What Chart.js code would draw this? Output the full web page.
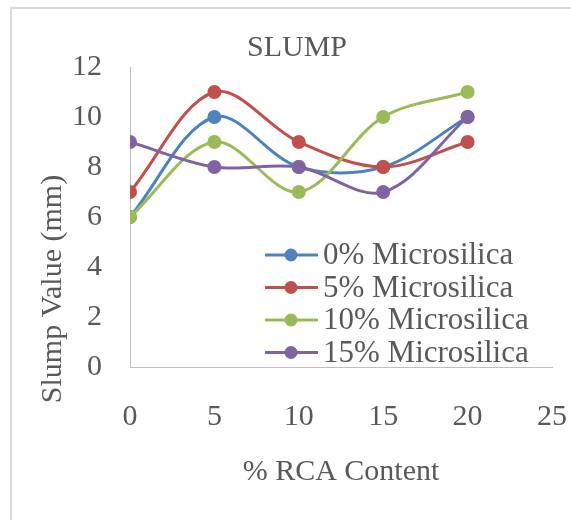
<!DOCTYPE html>
<html>
<head>
<meta charset="utf-8">
<script src="https://cdn.jsdelivr.net/npm/chart.js@4.4.0/dist/chart.umd.min.js"></script>
<style>
  html, body { margin: 0; padding: 0; background: #fff; overflow: hidden; }
  canvas { display: block; }
</style>
</head>
<body>
<canvas id="slumpChart" width="571" height="520"></canvas>
<script>
// values
const rcaContent = [0, 5, 10, 15, 20];
const seriesNames = ['0% Microsilica', '5% Microsilica', '10% Microsilica', '15% Microsilica'];
const ms0 = [6, 10, 8, 8, 10];
const ms5 = [7, 11, 9, 8, 9];
const ms10 = [6, 9, 7, 10, 11];
const ms15 = [9, 8, 8, 7, 10];
const seriesColors = ['#4F81BD', '#C0504D', '#9BBB59', '#8064A2'];

const FONT = 'Liberation Serif, Times New Roman, serif';
const TEXT = '#595959';

const toPoints = vals => vals.map((v, i) => ({ x: rcaContent[i], y: v }));

// frame, rotated y title and the in-plot legend
const decor = {
    id: 'decor',
    beforeDraw(chart) {
        const ctx = chart.ctx;
        ctx.save();
        ctx.strokeStyle = '#d9d9d9';
        ctx.lineWidth = 2;
        ctx.strokeRect(11, 8, 700, 700);
        ctx.restore();
    },
    afterDraw(chart) {
        const ctx = chart.ctx;
        const area = chart.chartArea;
        ctx.save();
        ctx.font = '30px ' + FONT;
        ctx.fillStyle = TEXT;
        ctx.textAlign = 'center';
        ctx.textBaseline = 'middle';
        ctx.translate(area.left - 77, area.bottom - 78);
        ctx.rotate(-Math.PI / 2);
        ctx.fillText('Slump Value (mm)', 0, 0);
        ctx.restore();

        ctx.save();
        ctx.font = '31px ' + FONT;
        ctx.textBaseline = 'middle';
        ctx.textAlign = 'left';
        chart.data.datasets.forEach((ds, i) => {
            const y = area.top + 188 + i * 32.5;
            const x0 = area.left + 135;
            ctx.strokeStyle = ds.borderColor;
            ctx.lineWidth = 3;
            ctx.beginPath();
            ctx.moveTo(x0, y);
            ctx.lineTo(x0 + 53, y);
            ctx.stroke();
            ctx.fillStyle = ds.borderColor;
            ctx.beginPath();
            ctx.arc(x0 + 26, y, 6.5, 0, Math.PI * 2);
            ctx.fill();
            ctx.fillStyle = TEXT;
            ctx.fillText(ds.label, x0 + 58, y + 1);
        });
        ctx.restore();
    }
};

const allSeries = [ms0, ms5, ms10, ms15];

new Chart(document.getElementById('slumpChart'), {
    type: 'line',
    data: {
        datasets: allSeries.map((vals, i) => ({
            label: seriesNames[i],
            data: toPoints(vals),
            borderColor: seriesColors[i],
            backgroundColor: seriesColors[i],
            pointBackgroundColor: seriesColors[i],
            pointBorderColor: seriesColors[i],
            borderWidth: 3,
            pointRadius: 7,
            pointBorderWidth: 0,
            tension: 0.34,
            fill: false,
            order: 3 - i // later series drawn on top
        }))
    },
    options: {
        responsive: false,
        animation: false,
        layout: { padding: { left: 42, right: 19, top: 0, bottom: 0 } },
        plugins: {
            legend: { display: false },
            tooltip: { enabled: false },
            title: {
                display: true,
                text: 'SLUMP',
                color: TEXT,
                font: { family: FONT, size: 30, weight: 'normal', lineHeight: 1.2 },
                padding: { top: 30, bottom: 1 }
            }
        },
        scales: {
            x: {
                type: 'linear',
                min: 0,
                max: 25,
                grid: { display: false, drawTicks: false },
                border: { display: true, color: '#bfbfbf', width: 1 },
                ticks: {
                    stepSize: 5,
                    color: TEXT,
                    padding: 32,
                    maxRotation: 0,
                    font: { family: FONT, size: 30, lineHeight: 1.2 }
                },
                title: {
                    display: true,
                    text: '% RCA Content',
                    color: TEXT,
                    font: { family: FONT, size: 30, lineHeight: 1.2 },
                    padding: { top: 22, bottom: 30 }
                },
                afterFit(scale) {
                    scale.height = 153;
                    scale.paddingRight = 0;
                    scale.paddingLeft = 0;
                }
            },
            y: {
                min: 0,
                max: 12,
                grid: { display: false, drawTicks: false },
                border: { display: true, color: '#bfbfbf', width: 1 },
                ticks: {
                    stepSize: 2,
                    color: TEXT,
                    padding: 28,
                    font: { family: FONT, size: 30, lineHeight: 1.2 }
                },
                afterFit(scale) { scale.width = 88; }
            }
        }
    },
    plugins: [decor]
});
</script>
</body>
</html>
